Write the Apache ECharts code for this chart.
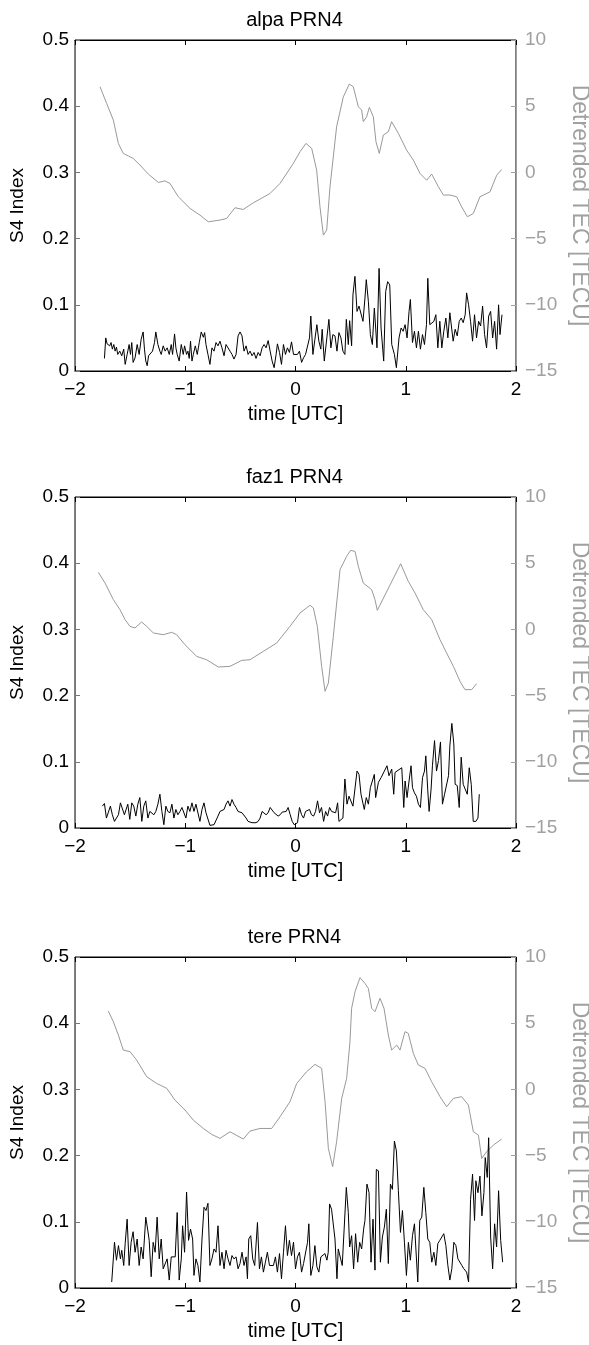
<!DOCTYPE html>
<html>
<head>
<meta charset="utf-8">
<title>S4 Index / Detrended TEC PRN4</title>
<script src="https://cdn.jsdelivr.net/npm/echarts@6/dist/echarts.min.js"></script>
</head>
<body style="margin:0;background:#fff">
<div id="main" style="width:589px;height:1345px;"></div>
<script type="text/javascript">
// station titles, axis ticks
var titles = ['alpa PRN4', 'faz1 PRN4', 'tere PRN4'];
var timeTicks = [-2, -1, 0, 1, 2];
var s4Ticks = [0, 0.1, 0.2, 0.3, 0.4, 0.5];
var tecTicks = [-15, -10, -5, 0, 5, 10];

// [time UTC, S4]
var alpaS4 = [[-1.733,0.019],[-1.721,0.050],[-1.709,0.041],[-1.697,0.044],[-1.685,0.038],[-1.673,0.043],[-1.661,0.033],[-1.648,0.040],[-1.636,0.030],[-1.624,0.036],[-1.612,0.025],[-1.594,0.030],[-1.576,0.023],[-1.558,0.033],[-1.545,0.010],[-1.527,0.025],[-1.509,0.040],[-1.497,0.025],[-1.485,0.043],[-1.473,0.013],[-1.455,0.020],[-1.436,0.040],[-1.418,0.025],[-1.400,0.048],[-1.382,0.059],[-1.370,0.033],[-1.358,0.015],[-1.345,0.008],[-1.333,0.023],[-1.315,0.025],[-1.297,0.030],[-1.279,0.043],[-1.267,0.059],[-1.248,0.040],[-1.230,0.030],[-1.218,0.025],[-1.200,0.038],[-1.182,0.030],[-1.164,0.035],[-1.145,0.025],[-1.127,0.040],[-1.115,0.025],[-1.097,0.056],[-1.085,0.035],[-1.073,0.025],[-1.055,0.015],[-1.036,0.040],[-1.018,0.025],[-1.006,0.038],[-0.988,0.025],[-0.976,0.030],[-0.964,0.019],[-0.952,0.045],[-0.939,0.015],[-0.927,0.025],[-0.909,0.038],[-0.891,0.025],[-0.873,0.043],[-0.855,0.059],[-0.836,0.051],[-0.824,0.058],[-0.812,0.040],[-0.794,0.025],[-0.776,0.010],[-0.758,0.035],[-0.739,0.030],[-0.721,0.043],[-0.703,0.038],[-0.685,0.045],[-0.667,0.035],[-0.648,0.023],[-0.630,0.040],[-0.612,0.043],[-0.594,0.030],[-0.576,0.025],[-0.558,0.018],[-0.539,0.025],[-0.521,0.053],[-0.503,0.059],[-0.485,0.053],[-0.467,0.030],[-0.448,0.038],[-0.430,0.025],[-0.412,0.030],[-0.394,0.023],[-0.376,0.028],[-0.358,0.019],[-0.339,0.028],[-0.321,0.023],[-0.303,0.035],[-0.285,0.040],[-0.267,0.035],[-0.248,0.046],[-0.230,0.030],[-0.212,0.015],[-0.194,0.005],[-0.176,0.025],[-0.164,0.041],[-0.145,0.028],[-0.127,0.010],[-0.109,0.040],[-0.091,0.025],[-0.073,0.035],[-0.055,0.028],[-0.036,0.044],[-0.018,0.025],
  [0.000,0.028],[0.018,0.025],[0.036,0.030],[0.055,0.013],[0.073,0.020],[0.091,0.025],[0.109,0.028],[0.127,0.050],[0.139,0.083],[0.158,0.025],[0.176,0.048],[0.194,0.070],[0.212,0.045],[0.230,0.033],[0.242,0.063],[0.261,0.015],[0.279,0.015],[0.303,0.078],[0.321,0.035],[0.339,0.055],[0.358,0.053],[0.376,0.030],[0.394,0.058],[0.412,0.050],[0.430,0.030],[0.448,0.025],[0.461,0.078],[0.479,0.040],[0.491,0.076],[0.509,0.038],[0.521,0.115],[0.539,0.143],[0.558,0.090],[0.576,0.098],[0.594,0.095],[0.612,0.075],[0.630,0.110],[0.642,0.138],[0.661,0.105],[0.679,0.055],[0.697,0.040],[0.715,0.095],[0.739,0.035],[0.758,0.155],[0.776,0.065],[0.800,0.015],[0.818,0.120],[0.836,0.135],[0.855,0.130],[0.873,0.040],[0.897,0.025],[0.915,0.005],[0.939,0.050],[0.958,0.065],[0.976,0.060],[0.994,0.070],[1.012,0.050],[1.030,0.090],[1.042,0.108],[1.061,0.043],[1.079,0.060],[1.097,0.035],[1.115,0.060],[1.133,0.033],[1.152,0.055],[1.170,0.040],[1.188,0.070],[1.200,0.140],[1.218,0.070],[1.236,0.070],[1.255,0.075],[1.273,0.085],[1.291,0.035],[1.309,0.075],[1.327,0.035],[1.345,0.060],[1.364,0.080],[1.382,0.050],[1.400,0.088],[1.412,0.090],[1.430,0.045],[1.448,0.063],[1.467,0.053],[1.485,0.075],[1.503,0.080],[1.521,0.073],[1.539,0.085],[1.552,0.118],[1.570,0.100],[1.588,0.075],[1.606,0.045],[1.624,0.085],[1.642,0.050],[1.661,0.075],[1.679,0.068],[1.697,0.098],[1.715,0.055],[1.733,0.035],[1.752,0.083],[1.770,0.090],[1.788,0.050],[1.806,0.075],[1.824,0.033],[1.842,0.100],[1.855,0.055],[1.873,0.085]];

var faz1S4 = [[-1.752,0.033],[-1.733,0.037],[-1.715,0.015],[-1.697,0.018],[-1.679,0.033],[-1.661,0.020],[-1.642,0.010],[-1.624,0.011],[-1.606,0.020],[-1.588,0.038],[-1.570,0.037],[-1.552,0.020],[-1.539,0.020],[-1.521,0.036],[-1.503,0.013],[-1.485,0.038],[-1.467,0.033],[-1.448,0.018],[-1.430,0.036],[-1.412,0.046],[-1.394,0.010],[-1.376,0.033],[-1.358,0.041],[-1.339,0.015],[-1.321,0.025],[-1.303,0.023],[-1.285,0.020],[-1.267,0.025],[-1.248,0.036],[-1.230,0.051],[-1.212,0.025],[-1.194,0.005],[-1.176,0.033],[-1.158,0.025],[-1.139,0.023],[-1.121,0.036],[-1.103,0.015],[-1.085,0.028],[-1.067,0.020],[-1.048,0.025],[-1.030,0.031],[-1.012,0.033],[-0.994,0.015],[-0.976,0.033],[-0.958,0.025],[-0.939,0.038],[-0.921,0.025],[-0.903,0.036],[-0.885,0.038],[-0.867,0.010],[-0.848,0.028],[-0.830,0.038],[-0.812,0.023],[-0.794,0.020],[-0.776,0.004],[-0.758,0.004],[-0.739,0.005],[-0.721,0.006],[-0.703,0.018],[-0.685,0.025],[-0.667,0.023],[-0.648,0.028],[-0.630,0.036],[-0.612,0.041],[-0.594,0.033],[-0.576,0.043],[-0.558,0.036],[-0.539,0.031],[-0.521,0.025],[-0.503,0.028],[-0.485,0.023],[-0.467,0.021],[-0.448,0.015],[-0.430,0.010],[-0.412,0.013],[-0.394,0.008],[-0.376,0.009],[-0.358,0.008],[-0.339,0.010],[-0.321,0.015],[-0.303,0.025],[-0.285,0.028],[-0.267,0.020],[-0.248,0.023],[-0.230,0.031],[-0.212,0.028],[-0.194,0.023],[-0.176,0.025],[-0.158,0.018],[-0.139,0.020],[-0.121,0.024],[-0.103,0.021],[-0.085,0.025],[-0.067,0.031],[-0.048,0.020],[-0.030,0.010],[-0.012,0.005],
  [0.000,0.005],[0.018,0.008],[0.036,0.031],[0.055,0.020],[0.073,0.015],[0.091,0.025],[0.109,0.023],[0.127,0.028],[0.145,0.020],[0.164,0.018],[0.182,0.025],[0.200,0.041],[0.218,0.023],[0.236,0.031],[0.255,0.010],[0.273,0.025],[0.291,0.018],[0.309,0.031],[0.327,0.025],[0.345,0.028],[0.364,0.023],[0.382,0.038],[0.394,0.010],[0.412,0.013],[0.430,0.015],[0.448,0.074],[0.467,0.036],[0.485,0.048],[0.503,0.051],[0.521,0.033],[0.539,0.031],[0.558,0.086],[0.576,0.081],[0.594,0.051],[0.606,0.053],[0.624,0.028],[0.642,0.046],[0.661,0.036],[0.679,0.061],[0.697,0.062],[0.715,0.081],[0.727,0.046],[0.752,0.069],[0.776,0.076],[0.806,0.086],[0.830,0.094],[0.848,0.079],[0.873,0.089],[0.891,0.051],[0.903,0.084],[0.921,0.086],[0.964,0.091],[0.982,0.031],[0.994,0.071],[1.012,0.046],[1.030,0.071],[1.048,0.094],[1.061,0.061],[1.079,0.053],[1.097,0.048],[1.115,0.036],[1.133,0.031],[1.152,0.076],[1.170,0.086],[1.182,0.109],[1.200,0.056],[1.212,0.025],[1.230,0.059],[1.242,0.094],[1.261,0.132],[1.279,0.086],[1.297,0.102],[1.315,0.130],[1.333,0.036],[1.352,0.051],[1.370,0.048],[1.388,0.079],[1.400,0.124],[1.418,0.158],[1.436,0.127],[1.448,0.066],[1.467,0.064],[1.485,0.031],[1.503,0.107],[1.521,0.066],[1.539,0.069],[1.558,0.051],[1.576,0.091],[1.594,0.066],[1.612,0.010],[1.636,0.010],[1.655,0.015],[1.667,0.051]];

var tereS4 = [[-1.667,0.009],[-1.642,0.069],[-1.624,0.042],[-1.606,0.064],[-1.588,0.044],[-1.576,0.057],[-1.558,0.034],[-1.545,0.067],[-1.527,0.104],[-1.509,0.034],[-1.491,0.069],[-1.473,0.085],[-1.455,0.054],[-1.436,0.074],[-1.418,0.034],[-1.400,0.062],[-1.382,0.044],[-1.358,0.107],[-1.339,0.086],[-1.327,0.072],[-1.309,0.017],[-1.291,0.069],[-1.273,0.054],[-1.255,0.107],[-1.236,0.044],[-1.218,0.074],[-1.200,0.029],[-1.182,0.032],[-1.164,0.044],[-1.145,0.012],[-1.127,0.047],[-1.109,0.049],[-1.091,0.047],[-1.073,0.114],[-1.055,0.012],[-1.036,0.044],[-1.024,0.094],[-1.006,0.054],[-0.988,0.145],[-0.970,0.072],[-0.952,0.089],[-0.933,0.074],[-0.921,0.019],[-0.903,0.044],[-0.885,0.034],[-0.867,0.009],[-0.848,0.074],[-0.830,0.122],[-0.812,0.117],[-0.794,0.128],[-0.776,0.034],[-0.758,0.044],[-0.739,0.059],[-0.721,0.054],[-0.703,0.094],[-0.685,0.034],[-0.667,0.054],[-0.648,0.029],[-0.630,0.057],[-0.612,0.044],[-0.594,0.034],[-0.576,0.049],[-0.558,0.044],[-0.539,0.047],[-0.521,0.029],[-0.503,0.037],[-0.485,0.054],[-0.467,0.034],[-0.448,0.047],[-0.436,0.014],[-0.424,0.074],[-0.406,0.079],[-0.388,0.044],[-0.370,0.034],[-0.345,0.099],[-0.327,0.029],[-0.309,0.047],[-0.291,0.024],[-0.273,0.039],[-0.255,0.054],[-0.236,0.034],[-0.218,0.037],[-0.200,0.034],[-0.182,0.047],[-0.164,0.024],[-0.145,0.052],[-0.127,0.014],[-0.109,0.054],[-0.091,0.094],[-0.073,0.049],[-0.055,0.072],[-0.036,0.049],[-0.018,0.069],
  [0.000,0.029],[0.018,0.047],[0.036,0.054],[0.055,0.024],[0.073,0.037],[0.091,0.039],[0.109,0.069],[0.121,0.097],[0.139,0.019],[0.158,0.034],[0.176,0.064],[0.194,0.032],[0.212,0.024],[0.230,0.047],[0.248,0.044],[0.267,0.052],[0.285,0.042],[0.297,0.054],[0.309,0.127],[0.327,0.119],[0.345,0.117],[0.358,0.074],[0.376,0.014],[0.388,0.059],[0.406,0.062],[0.424,0.034],[0.442,0.034],[0.461,0.152],[0.479,0.114],[0.491,0.062],[0.509,0.079],[0.527,0.029],[0.545,0.082],[0.564,0.039],[0.582,0.069],[0.600,0.059],[0.618,0.089],[0.630,0.102],[0.648,0.157],[0.667,0.144],[0.685,0.039],[0.703,0.104],[0.721,0.027],[0.733,0.179],[0.752,0.177],[0.770,0.039],[0.788,0.077],[0.806,0.092],[0.824,0.119],[0.842,0.037],[0.861,0.157],[0.879,0.149],[0.897,0.222],[0.915,0.207],[0.933,0.147],[0.952,0.084],[0.970,0.117],[0.988,0.069],[1.006,0.019],[1.024,0.069],[1.042,0.042],[1.061,0.079],[1.079,0.097],[1.097,0.094],[1.109,0.009],[1.127,0.102],[1.145,0.107],[1.164,0.152],[1.182,0.114],[1.200,0.074],[1.218,0.069],[1.236,0.039],[1.255,0.054],[1.273,0.034],[1.291,0.067],[1.309,0.072],[1.327,0.069],[1.345,0.082],[1.364,0.064],[1.382,0.034],[1.400,0.012],[1.418,0.029],[1.436,0.069],[1.455,0.064],[1.473,0.044],[1.491,0.047],[1.509,0.034],[1.527,0.029],[1.552,0.024],[1.570,0.009],[1.588,0.134],[1.606,0.172],[1.624,0.102],[1.636,0.162],[1.655,0.144],[1.673,0.169],[1.691,0.109],[1.709,0.144],[1.721,0.197],[1.739,0.167],[1.752,0.227],[1.770,0.077],[1.788,0.029],[1.806,0.097],[1.824,0.062],[1.842,0.147],[1.861,0.072],[1.879,0.039]];

// [time UTC, detrended TEC]
var alpaTec = [[-1.773,6.47],[-1.713,5.21],[-1.652,3.95],[-1.607,2.19],[-1.562,1.43],[-1.516,1.24],[-1.471,1.05],[-1.410,0.55],[-1.335,-0.13],[-1.244,-0.76],[-1.184,-0.64],[-1.138,-0.84],[-1.063,-1.84],[-0.957,-2.72],[-0.866,-3.23],[-0.791,-3.73],[-0.685,-3.60],[-0.625,-3.48],[-0.549,-2.67],[-0.474,-2.80],[-0.383,-2.30],[-0.231,-1.59],[-0.141,-0.84],[-0.020,0.67],[0.041,1.56],[0.095,2.19],[0.147,1.81],[0.192,0.17],[0.222,-2.60],[0.253,-4.74],[0.283,-4.36],[0.313,-1.08],[0.373,3.45],[0.434,5.71],[0.488,6.67],[0.524,6.47],[0.570,4.96],[0.600,4.71],[0.615,3.83],[0.645,4.20],[0.670,4.91],[0.706,4.20],[0.730,2.31],[0.760,1.43],[0.797,2.82],[0.842,3.07],[0.872,3.83],[0.933,2.95],[1.008,1.68],[1.069,0.93],[1.129,-0.08],[1.190,-0.59],[1.235,-0.13],[1.296,-1.08],[1.341,-1.71],[1.401,-1.71],[1.462,-1.84],[1.507,-2.60],[1.559,-3.35],[1.613,-3.10],[1.673,-1.84],[1.764,-1.47],[1.825,-0.21],[1.870,0.22]];

var faz1Tec = [[-1.788,4.31],[-1.728,3.51],[-1.652,2.25],[-1.592,1.49],[-1.546,0.74],[-1.501,0.23],[-1.456,0.11],[-1.395,0.56],[-1.350,0.23],[-1.289,-0.27],[-1.199,-0.40],[-1.123,-0.22],[-1.078,-0.40],[-1.002,-1.16],[-0.896,-2.04],[-0.806,-2.29],[-0.700,-2.84],[-0.594,-2.79],[-0.488,-2.34],[-0.413,-2.29],[-0.292,-1.66],[-0.171,-1.03],[-0.050,0.23],[0.041,1.24],[0.131,1.82],[0.162,1.62],[0.198,0.23],[0.237,-2.79],[0.268,-4.68],[0.298,-4.05],[0.343,-0.53],[0.404,4.51],[0.464,5.52],[0.500,5.97],[0.540,5.89],[0.570,4.76],[0.615,3.50],[0.691,3.00],[0.721,2.25],[0.742,1.44],[0.954,4.96],[1.023,3.63],[1.084,2.75],[1.159,1.49],[1.235,0.74],[1.311,-0.78],[1.371,-1.79],[1.432,-2.79],[1.492,-3.92],[1.537,-4.55],[1.598,-4.55],[1.643,-4.10]];

var tereTec = [[-1.698,5.92],[-1.652,5.11],[-1.607,4.11],[-1.562,2.97],[-1.501,2.85],[-1.441,2.22],[-1.350,0.96],[-1.259,0.45],[-1.168,0.08],[-1.093,-0.81],[-1.002,-1.56],[-0.927,-2.32],[-0.836,-2.95],[-0.760,-3.40],[-0.685,-3.70],[-0.594,-3.20],[-0.473,-3.75],[-0.413,-3.15],[-0.322,-2.95],[-0.216,-2.95],[-0.141,-2.07],[-0.050,-0.93],[0.011,0.45],[0.101,1.34],[0.177,1.89],[0.237,1.59],[0.268,-0.93],[0.298,-4.46],[0.337,-5.84],[0.373,-3.95],[0.419,-0.68],[0.464,0.83],[0.494,3.60],[0.509,6.12],[0.540,7.38],[0.585,8.44],[0.630,8.01],[0.661,7.63],[0.691,6.12],[0.721,5.87],[0.767,6.88],[0.803,6.12],[0.842,4.11],[0.872,2.97],[0.918,3.35],[0.948,2.97],[0.993,4.36],[1.023,4.23],[1.069,2.72],[1.114,1.84],[1.175,1.59],[1.235,0.58],[1.311,-0.55],[1.371,-1.31],[1.432,-0.68],[1.507,-0.55],[1.568,-1.18],[1.613,-3.20],[1.659,-3.45],[1.689,-5.21],[1.734,-4.71],[1.794,-4.21],[1.870,-3.75]];

var s4Sets = [alpaS4, faz1S4, tereS4];
var tecSets = [alpaTec, faz1Tec, tereTec];

var myChart = echarts.init(document.getElementById('main'));

var FONT = 'Liberation Sans';
var GRAY = '#a0a0a0';
var gridTops = [40, 497, 957];

function minus(v) { return String(v).replace('-', '\u2212'); }

var option = {
    animation: false,
    backgroundColor: '#fff',
    title: [], grid: [], xAxis: [], yAxis: [], series: []
};

for (var i = 0; i < 3; i++) {
    var gTop = gridTops[i];
    option.title.push({
        text: titles[i], left: 'center', top: gTop - 35,
        textStyle: { fontFamily: FONT, fontSize: 20, fontWeight: 'normal', color: '#000' }
    });
    option.grid.push({
        left: 75, top: gTop, width: 441, height: 331,
        outerBoundsMode: 'none', containLabel: false,
        show: true, borderColor: '#000', borderWidth: 1, backgroundColor: 'transparent'
    });
    // bottom time axis
    option.xAxis.push({
        type: 'value', gridIndex: i, position: 'bottom',
        min: timeTicks[0], max: timeTicks[timeTicks.length - 1], interval: 1,
        name: 'time [UTC]', nameLocation: 'middle', nameGap: 33,
        nameTextStyle: { fontFamily: FONT, fontSize: 20, color: '#000' },
        axisLine: { onZero: false, lineStyle: { color: '#000', width: 1 } },
        axisTick: { inside: true, length: 5, lineStyle: { color: '#000' } },
        axisLabel: { fontFamily: FONT, fontSize: 19, color: '#000', margin: 9, formatter: minus },
        splitLine: { show: false }
    });
    // top mirror axis (ticks only)
    option.xAxis.push({
        type: 'value', gridIndex: i, position: 'top',
        min: timeTicks[0], max: timeTicks[timeTicks.length - 1], interval: 1,
        axisLine: { onZero: false, lineStyle: { color: '#000', width: 1 } },
        axisTick: { inside: true, length: 5, lineStyle: { color: '#000' } },
        axisLabel: { show: false }, splitLine: { show: false }
    });
    // left S4 axis
    option.yAxis.push({
        type: 'value', gridIndex: i, position: 'left',
        min: s4Ticks[0], max: s4Ticks[s4Ticks.length - 1], interval: 0.1,
        name: 'S4 Index', nameLocation: 'middle', nameGap: 48, nameRotate: 90,
        nameTextStyle: { fontFamily: FONT, fontSize: 19, color: '#000' },
        axisLine: { onZero: false, lineStyle: { color: '#777', width: 1 } },
        axisTick: { inside: true, length: 5, lineStyle: { color: '#777' } },
        axisLabel: { fontFamily: FONT, fontSize: 19, color: '#000', margin: 6 },
        splitLine: { show: false }
    });
    // right TEC axis
    option.yAxis.push({
        type: 'value', gridIndex: i, position: 'right',
        min: tecTicks[0], max: tecTicks[tecTicks.length - 1], interval: 5,
        name: 'Detrended TEC [TECU]', nameLocation: 'middle', nameGap: 49, nameRotate: -90,
        nameTextStyle: { fontFamily: FONT, fontSize: 23, color: GRAY },
        axisLine: { onZero: false, lineStyle: { color: GRAY, width: 1 } },
        axisTick: { inside: true, length: 5, lineStyle: { color: GRAY } },
        axisLabel: { fontFamily: FONT, fontSize: 19, color: GRAY, margin: 9, formatter: minus },
        splitLine: { show: false }
    });
    option.series.push({
        type: 'line', name: 'TEC ' + titles[i],
        xAxisIndex: 2 * i, yAxisIndex: 2 * i + 1,
        data: tecSets[i], showSymbol: false, symbol: 'none',
        lineStyle: { color: '#999', width: 1 }, z: 2
    });
    option.series.push({
        type: 'line', name: 'S4 ' + titles[i],
        xAxisIndex: 2 * i, yAxisIndex: 2 * i,
        data: s4Sets[i], showSymbol: false, symbol: 'none',
        lineStyle: { color: '#000', width: 1 }, z: 3
    });
}

myChart.setOption(option);
</script>
</body>
</html>
